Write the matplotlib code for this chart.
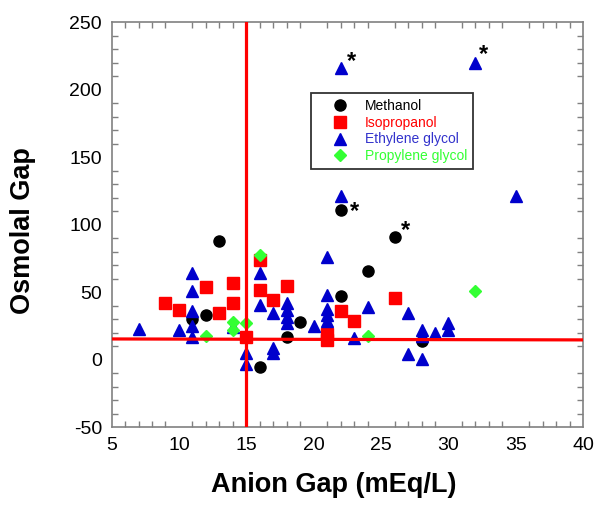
import matplotlib
matplotlib.use('Agg')
import matplotlib.pyplot as plt
from matplotlib.ticker import MultipleLocator

plt.rc('font', family='Liberation Sans')
plt.rc('axes', unicode_minus=False)

# Datos (anion gap, osmolal gap)
met_x = [13, 12, 11, 16, 18, 19, 22, 22, 24, 26, 28]
met_y = [88, 33, 30, -5, 17, 28, 47, 111, 66, 91, 14]

iso_x = [9, 10, 12, 13, 14, 14, 15, 16, 16, 17, 18, 21, 21, 22, 23, 26]
iso_y = [42, 37, 54, 35, 57, 42, 17, 74, 52, 44, 55, 19, 15, 36, 29, 46]

eg_x = [7, 10, 11, 11, 11, 11, 11, 14, 15, 15, 16, 16, 17, 17, 17, 18, 18, 18, 18,
        20, 21, 21, 21, 21, 21, 22, 22, 23, 24, 27, 27, 28, 28, 28, 29, 30, 30, 32, 35]
eg_y = [23, 22, 64, 51, 36, 25, 17, 24, 5, -3, 64, 41, 35, 9, 5, 42, 37, 32, 27,
        25, 76, 48, 38, 33, 29, 216, 121, 16, 39, 35, 4, 22, 18, 1, 20, 27, 22, 220, 121]

pg_x = [12, 14, 14, 15, 16, 24, 32]
pg_y = [18, 28, 22, 27, 78, 18, 51]

# casos marcados con asterisco
star_x = [22, 32, 22, 26]
star_y = [216, 220, 111, 91]
star_off = [(8, 5), (6, 6), (10, -1), (8, 5)]  # desplazamiento en puntos

corte_x = 15
corte_y = [15.5, 14.8]

fig = plt.figure(figsize=(6, 5.07), dpi=100)
ax = fig.add_axes([0.186, 0.157, 0.786, 0.799])

ax.plot(met_x, met_y, 'o', color='black', ms=8, mec='black', label='Methanol', zorder=3)
ax.plot(iso_x, iso_y, 's', color='#ff0000', ms=8, mec='#ff0000', label='Isopropanol', zorder=3)
ax.plot(eg_x, eg_y, '^', color='#0000cc', ms=9, mec='#0000cc', label='Ethylene glycol', zorder=3)
ax.plot(pg_x, pg_y, 'D', color='#33ff33', ms=6.5, mec='#33ff33', label='Propylene glycol', zorder=3)

for x, y, off in zip(star_x, star_y, star_off):
    ax.annotate('*', xy=(x, y), xytext=off, textcoords='offset points',
                ha='center', va='center', fontsize=17, fontweight='bold', zorder=4)

ax.axvline(corte_x, color='red', lw=2.3, zorder=5)
ax.plot([5, 40], corte_y, color='red', lw=2.3, zorder=5)

ax.set_xlim(5, 40)
ax.set_ylim(-50, 250)
ax.xaxis.set_major_locator(MultipleLocator(5))
ax.xaxis.set_minor_locator(MultipleLocator(1))
ax.yaxis.set_major_locator(MultipleLocator(50))
ax.yaxis.set_minor_locator(MultipleLocator(10))
ax.tick_params(which='both', direction='in', top=True, right=True, color='#808080')
ax.tick_params(which='major', length=0, labelsize=14, pad=7)
ax.tick_params(which='minor', length=4, width=1)
for s in ax.spines.values():
    s.set_color('#808080')
    s.set_linewidth(1.2)

ax.set_xlabel('Anion Gap (mEq/L)', fontsize=19.5, fontweight='bold')
ax.set_ylabel('Osmolal Gap', fontsize=19.5, fontweight='bold')
ax.xaxis.set_label_coords(0.471, -0.11)
ax.yaxis.set_label_coords(-0.16, 0.487)

leg = ax.legend(loc='upper left', bbox_to_anchor=(310.7 / 600, 1 - 93.3 / 507),
                bbox_transform=fig.transFigure, fontsize=10, frameon=True,
                fancybox=False, edgecolor='#333333', borderpad=0.4,
                handlelength=3.4, handletextpad=0.1, labelspacing=0.2,
                borderaxespad=0, framealpha=1)
leg.get_frame().set_linewidth(1.3)
for txt, c in zip(leg.get_texts(), ['black', '#ff0000', '#3333cc', '#33ff33']):
    txt.set_color(c)

plt.savefig('out.png', dpi=100)
